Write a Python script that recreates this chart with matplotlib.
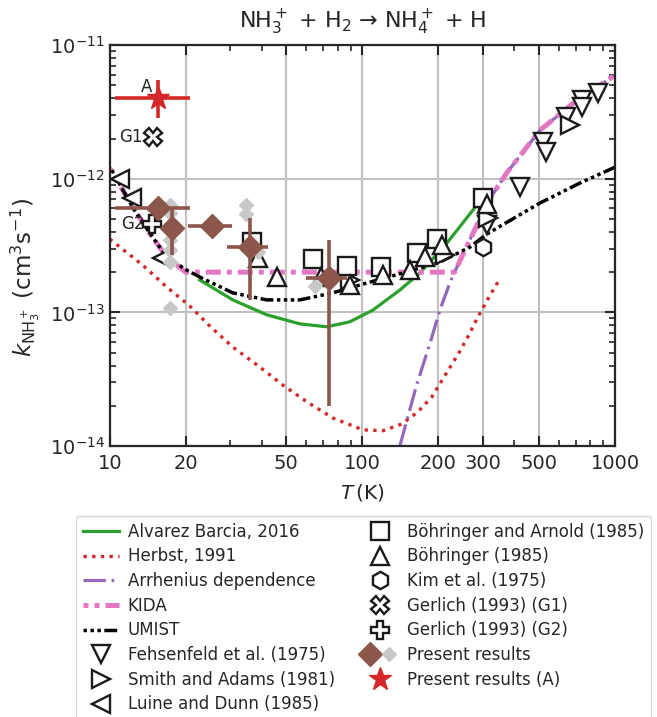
import matplotlib.pyplot as plt
from matplotlib.legend_handler import HandlerTuple
from matplotlib.ticker import FixedLocator, FixedFormatter, LogLocator, NullFormatter

plt.rcParams['font.family'] = ['DejaVu Sans']
plt.rcParams['mathtext.fontset'] = 'dejavusans'
plt.rcParams['text.color'] = '.15'
plt.rcParams['axes.labelcolor'] = '.15'
plt.rcParams['xtick.color'] = '.15'
plt.rcParams['ytick.color'] = '.15'

# model curves (T in K, k in cm^3 s^-1)
alvarez_T = [22.7, 30.7, 41.8, 56.6, 72.3, 89.2, 110.1, 140.8, 169.0, 216.1, 284.0]
alvarez_k = [1.75e-13, 1.24e-13, 9.6e-14, 8.2e-14, 7.8e-14, 8.5e-14, 1.04e-13, 1.47e-13,
             1.97e-13, 3.30e-13, 6.35e-13]

herbst_T = [10.0, 13.5, 16.8, 20.7, 24.9, 30.7, 38.6, 48.4, 60.3, 76.4, 100.5, 120.6,
            143.3, 165.9, 188.5, 208.4, 241.1, 264.1, 286.7, 314.1, 344.1]
herbst_k = [3.54e-13, 2.26e-13, 1.55e-13, 1.12e-13, 7.9e-14, 5.5e-14, 4.0e-14, 2.86e-14,
            2.14e-14, 1.62e-14, 1.32e-14, 1.30e-14, 1.46e-14, 1.80e-14, 2.33e-14, 3.18e-14,
            4.97e-14, 6.78e-14, 9.24e-14, 1.26e-13, 1.69e-13]

arrh_T = [140.8, 164.0, 185.5, 202.7, 222.0, 243.7, 317.0, 372.0, 505.0, 684.0, 1000.0]
arrh_k = [1.0e-14, 2.86e-14, 5.9e-14, 1.04e-13, 1.66e-13, 2.47e-13, 6.9e-13, 1.10e-12,
          2.31e-12, 3.68e-12, 5.97e-12]

kida_T = [10.0, 12.3, 14.4, 16.8, 20.0, 232.0, 255.0, 317.0, 372.0, 505.0, 684.0, 1000.0]
kida_k = [1.2e-12, 6.2e-13, 3.9e-13, 2.6e-13, 2.0e-13, 2.0e-13, 2.93e-13, 6.9e-13,
          1.10e-12, 2.31e-12, 3.68e-12, 5.97e-12]

umist_T = [10.2, 12.3, 14.4, 16.8, 20.2, 22.7, 30.7, 41.8, 56.6, 76.4, 104.2, 144.7,
           202.7, 266.6, 311.2, 504.6, 726.6, 1000.0]
umist_k = [1.16e-12, 6.14e-13, 3.93e-13, 2.60e-13, 2.07e-13, 1.84e-13, 1.40e-13, 1.24e-13,
           1.24e-13, 1.40e-13, 1.66e-13, 1.97e-13, 2.38e-13, 3.08e-13, 3.86e-13, 6.58e-13,
           9.29e-13, 1.22e-12]

# measurements
fehs_T = [311, 421, 519, 533, 640, 740, 743, 857]
fehs_k = [4.5e-13, 8.7e-13, 1.88e-12, 1.58e-12, 2.89e-12, 3.88e-12, 3.43e-12, 4.38e-12]

smith_T = [89, 213, 314, 663]
smith_k = [1.75e-13, 2.69e-13, 5.1e-13, 2.52e-12]

luine_T = [10.95, 12.2, 16.1]
luine_k = [9.96e-13, 7.2e-13, 2.55e-13]

boha_T = [36.5, 63.7, 86.8, 118.4, 164.4, 197.2, 300]
boha_k = [3.37e-13, 2.51e-13, 2.22e-13, 2.18e-13, 2.78e-13, 3.54e-13, 7.18e-13]

boh_T = [38.6, 45.9, 68.5, 89.2, 120.6, 154.2, 176.8, 206.5, 311]
boh_k = [2.55e-13, 1.84e-13, 1.84e-13, 1.60e-13, 1.91e-13, 2.07e-13, 2.60e-13, 3.19e-13,
         6.47e-13]

kim_T = [300]
kim_k = [3.08e-13]

g1_T, g1_k = 14.8, 2.05e-12
g2_T, g2_k = 14.7, 4.6e-13

# present results with error ranges
pr_T = [15.5, 17.6, 25.4, 35.8, 73.7]
pr_k = [6.0e-13, 4.3e-13, 4.4e-13, 3.1e-13, 1.8e-13]
pr_T_lo = [10.5, 17.6, 20.4, 29.1, 59.8]
pr_T_hi = [20.7, 17.6, 30.4, 42.2, 86.8]
pr_k_lo = [6.0e-13, 2.7e-13, 4.4e-13, 1.24e-13, 2.0e-14]
pr_k_hi = [6.0e-13, 6.0e-13, 4.4e-13, 5.1e-13, 3.5e-13]

grey_T = [17.3, 17.3, 17.3, 17.3, 17.3, 17.3, 34.5, 34.5, 38.6, 64.8]
grey_k = [6.35e-13, 5.53e-13, 3.48e-13, 2.93e-13, 2.38e-13, 1.08e-13, 6.35e-13, 5.44e-13,
          2.83e-13, 1.58e-13]

a_T, a_k = 15.5, 4.0e-12
a_T_lo, a_T_hi = 10.5, 20.7
a_k_lo, a_k_hi = 2.85e-12, 5.5e-12

brown = '#8c564b'
grey = '#c7c7c7'
red = '#d62728'

fig = plt.figure(figsize=(6.57, 7.17), dpi=100)
ax = fig.add_axes([0.167, 0.378, 0.769, 0.559])
ax.set_xscale('log')
ax.set_yscale('log')

l_alv, = ax.plot(alvarez_T, alvarez_k, color='#2ca02c', lw=2.3)
l_her, = ax.plot(herbst_T, herbst_k, color=red, lw=2.4, ls=(0, (1, 1.6)))
l_arr, = ax.plot(arrh_T, arrh_k, color='#9467bd', lw=2.3, ls=(0, (7, 1.8, 0.8, 1.8)))
l_kid, = ax.plot(kida_T, kida_k, color='#e377c2', lw=3.6, ls=(2, (3, 1.2, 1, 1.2)))
l_umi, = ax.plot(umist_T, umist_k, color='k', lw=2.5, ls=(0, (1, 1, 1, 1, 1, 1, 3.7, 1)))

mk = dict(ls='none', mfc='white', mec='.1', mew=1.7, ms=12.5)
l_feh, = ax.plot(fehs_T, fehs_k, marker='v', **mk)
l_smi, = ax.plot(smith_T, smith_k, marker='>', **mk)
l_lui, = ax.plot(luine_T, luine_k, marker='<', **mk)
l_bha, = ax.plot(boha_T, boha_k, marker='s', **mk)
l_boh, = ax.plot(boh_T, boh_k, marker='^', **mk)
l_kim, = ax.plot(kim_T, kim_k, marker='h', **mk)
l_g1, = ax.plot([g1_T], [g1_k], marker='X', **mk)
l_g2, = ax.plot([g2_T], [g2_k], marker='P', **mk)

ax.annotate('G1', (g1_T, g1_k), xytext=(-7, 0), textcoords='offset points',
            ha='right', va='center', fontsize=12)
ax.annotate('G2', (g2_T, g2_k), xytext=(-5, 0), textcoords='offset points',
            ha='right', va='center', fontsize=12)

l_grey, = ax.plot(grey_T, grey_k, ls='none', marker='D', ms=7, color=grey, zorder=3)

xerr = [[t - lo for t, lo in zip(pr_T, pr_T_lo)], [hi - t for t, hi in zip(pr_T, pr_T_hi)]]
yerr = [[k - lo for k, lo in zip(pr_k, pr_k_lo)], [hi - k for k, hi in zip(pr_k, pr_k_hi)]]
ax.errorbar(pr_T, pr_k, xerr=xerr, yerr=yerr, fmt='none', ecolor=brown, elinewidth=2.6,
            capsize=0, zorder=4)
l_pr, = ax.plot(pr_T, pr_k, ls='none', marker='D', ms=12, color=brown, zorder=5)

ax.errorbar([a_T], [a_k], xerr=[[a_T - a_T_lo], [a_T_hi - a_T]],
            yerr=[[a_k - a_k_lo], [a_k_hi - a_k]], fmt='none', ecolor=red,
            elinewidth=2.6, capsize=0, zorder=4)
l_a, = ax.plot([a_T], [a_k], ls='none', marker='*', ms=17, color=red, zorder=5)
ax.annotate('A', (a_T, a_k), xytext=(-8, 8), textcoords='offset points',
            ha='center', va='center', fontsize=12)

ax.set_xlim(10, 1000)
ax.set_ylim(1e-14, 1e-11)

xmajor = [10, 20, 50, 100, 200, 300, 500, 1000]
xminor = [30, 40, 60, 70, 80, 90, 400, 600, 700, 800, 900]
ax.xaxis.set_major_locator(FixedLocator(xmajor))
ax.xaxis.set_major_formatter(FixedFormatter([str(v) for v in xmajor]))
ax.xaxis.set_minor_locator(FixedLocator(xminor))
ax.xaxis.set_minor_formatter(NullFormatter())
ax.yaxis.set_major_locator(LogLocator(base=10, numticks=10))
ax.yaxis.set_minor_locator(LogLocator(base=10, subs=range(2, 10), numticks=10))
ax.yaxis.set_minor_formatter(NullFormatter())

ax.tick_params(which='both', direction='in', top=True, right=True, labelsize=14)
ax.tick_params(which='major', length=7, width=1.5)
ax.tick_params(axis='x', which='major', pad=6)
ax.tick_params(which='minor', length=4, width=1.2)
for s in ax.spines.values():
    s.set_linewidth(1.6)
    s.set_color('.15')
ax.grid(True, which='major', color='#c0c0c0', lw=1.5)
ax.set_axisbelow(True)

ax.set_title(r'NH$_3^+$ + H$_2$ → NH$_4^+$ + H', fontsize=16, pad=12)
ax.set_xlabel(r'$T\,$(K)', fontsize=14.5, labelpad=6)
ax.set_ylabel(r'$k_{\mathrm{NH}_3^+}$ (cm$^3$s$^{-1}$)', fontsize=16.5)
ax.yaxis.set_label_coords(-0.135, 0.42)

handles = [l_alv, l_her, l_arr, l_kid, l_umi, l_feh, l_smi, l_lui,
           l_bha, l_boh, l_kim, l_g1, l_g2, (l_pr, l_grey), l_a]
labels = ['Alvarez Barcia, 2016', 'Herbst, 1991', 'Arrhenius dependence', 'KIDA', 'UMIST',
          'Fehsenfeld et al. (1975)', 'Smith and Adams (1981)', 'Luine and Dunn (1985)',
          'Böhringer and Arnold (1985)', 'Böhringer (1985)', 'Kim et al. (1975)',
          'Gerlich (1993) (G1)', 'Gerlich (1993) (G2)', 'Present results',
          'Present results (A)']
fig.legend(handles, labels, ncol=2, loc='upper center', bbox_to_anchor=(0.553, 0.2803),
           borderaxespad=0, fontsize=12, handlelength=2.15, handletextpad=0.55,
           labelspacing=0.4, columnspacing=1.6,
           handler_map={tuple: HandlerTuple(ndivide=None, pad=0.1)})

fig.savefig('out.png', dpi=100)
